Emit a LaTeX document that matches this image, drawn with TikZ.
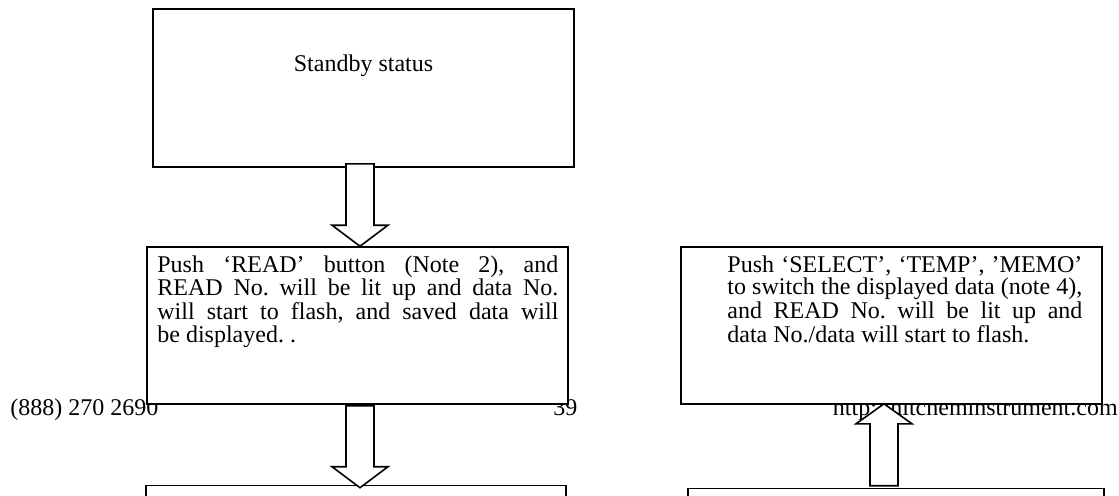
\documentclass[tikz,border=0pt]{standalone}
\usepackage{fontspec}
\setmainfont{Liberation Serif}
\usetikzlibrary{calc, positioning}
\frenchspacing

% hollow block arrows, start point -> tip
\newcommand{\arrowdown}[2]{%
  \draw[blkarrow] let \p1=(#1), \p2=(#2) in
    (\x1-7pt,\y1) -- (\x1-7pt,\y2+10.5pt) -- (\x1-14pt,\y2+10.5pt) -- (\x1,\y2)
    -- (\x1+14pt,\y2+10.5pt) -- (\x1+7pt,\y2+10.5pt) -- (\x1+7pt,\y1) -- cycle;}
\newcommand{\arrowup}[2]{%
  \draw[blkarrow] let \p1=(#1), \p2=(#2) in
    (\x1-7pt,\y1) -- (\x1-7pt,\y2-10pt) -- (\x1-14pt,\y2-10pt) -- (\x1,\y2)
    -- (\x1+14pt,\y2-10pt) -- (\x1+7pt,\y2-10pt) -- (\x1+7pt,\y1) -- cycle;}

\begin{document}
\begin{tikzpicture}[x=0.5pt, y=-0.5pt,
    box/.style={draw, fill=white, line width=0.8pt, minimum width=210.5pt,
      minimum height=78.5pt, inner sep=0pt},
    boxtext/.style={anchor=north west, inner sep=0pt, align=justify,
      font=\fontsize{12}{10}\selectfont},
    footer/.style={inner sep=0pt, font=\fontsize{12}{14}\selectfont},
    blkarrow/.style={draw, fill=white, line width=0.8pt, line join=miter}]

    % Page area
    \useasboundingbox (0,0) rectangle (1119,495);
    \clip (0,0) rectangle (1119,495);

    % Footer line of the page (lies under the boxes)
    \node[footer, anchor=base west] (phone) at (10,415) {(888) 270 2690};
    \node[footer, anchor=base west] (pageno) at (553,415) {39};
    \node[footer, anchor=base east] (website) at (1118,415) {http://hitcheminstrument.com};

    % Boxes
    \node[box, minimum height=79pt] (standby) at (363.5,88) {};
    \node[box] (readbox) at (357.5,325.5) {};
    \node[box, minimum width=210pt] (nextbox) at (356,564) {};
    \node[box] (selectbox) at (891.5,325.5) {};
    \node[box, minimum width=208pt] (rightbox) at (896,567) {};

    % Texts
    \node[inner sep=0pt, anchor=base, font=\fontsize{12}{14}\selectfont]
      (standbytext) at (363.5,71) {Standby status};
    \node[boxtext, text width=200.5pt] (readtext) at (157,255)
      {\lineskiplimit=-20pt\relax
      Push ‘READ’ button (Note 2), and\linebreak
      READ No. will be lit up and data No.\linebreak
      will start to flash, and saved data will\linebreak
      be displayed. .};
    \node[boxtext, text width=177.5pt] (selecttext) at (727,255)
      {\lineskiplimit=-20pt\relax
      Push ‘SELECT’, ‘TEMP’, ’MEMO’\linebreak
      to switch the displayed data (note 4),\linebreak
      and READ No. will be lit up and\linebreak
      data No./data will start to flash.};

    % Arrows
    \arrowdown{$(standby.south)+(-3.5,-4)$}{$(readbox.north)+(2.5,0)$}
    \arrowdown{$(readbox.south)+(2.5,1)$}{$(nextbox.north)+(4,3)$}
    \arrowup{$(rightbox.north)+(-12,-2)$}{$(selectbox.south)+(-7.5,-1)$}
\end{tikzpicture}
\end{document}
